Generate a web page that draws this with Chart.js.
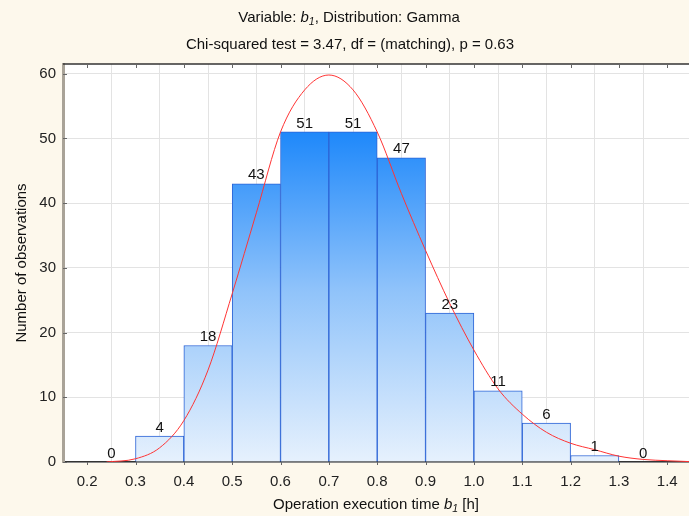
<!DOCTYPE html>
<html>
<head>
<meta charset="utf-8">
<script src="https://cdn.jsdelivr.net/npm/chart.js@4"></script>
<style>
  html, body { margin: 0; padding: 0; background: #fdf8ec; }
  #wrap { width: 689px; height: 516px; }
</style>
</head>
<body>
<div id="wrap"><canvas id="histChart" width="689" height="516"></canvas></div>
<script>
// histogram bins (centre of each 0.1 h class) and observed counts
const binCentres = [0.25, 0.35, 0.45, 0.55, 0.65, 0.75, 0.85, 0.95, 1.05, 1.15, 1.25, 1.35];
const counts = [0, 4, 18, 43, 51, 51, 47, 23, 11, 6, 1, 0];

// fitted gamma curve
const curveX = [0.24, 0.30, 0.35, 0.40, 0.45, 0.50, 0.55, 0.60, 0.65, 0.70, 0.75, 0.80, 0.85, 0.90, 0.95, 1.00, 1.05, 1.10, 1.15, 1.20, 1.25, 1.30, 1.35, 1.40, 1.45];
const curveY = [0, 0.5, 2.2, 6.4, 14.2, 26, 38.5, 51, 57.5, 59.8, 57.5, 51, 41.5, 32.7, 24.5, 17.3, 11.3, 7.4, 4.6, 2.9, 1.9, 0.9, 0.4, 0.2, 0.05];

const xTicks = [0.2, 0.3, 0.4, 0.5, 0.6, 0.7, 0.8, 0.9, 1.0, 1.1, 1.2, 1.3, 1.4];
const yTicks = [0, 10, 20, 30, 40, 50, 60];

const FONT = "'Liberation Sans', Arial, sans-serif";

// draws a line of text made of [text, italic, subscript] pieces, centred on cx
function richText(ctx, parts, cx, cy, size) {
    let total = 0;
    const widths = parts.map(p => {
        ctx.font = (p[1] ? "italic " : "") + (p[2] ? size * 0.7 : size) + "px " + FONT;
        const w = ctx.measureText(p[0]).width;
        total += w;
        return w;
    });
    let x = cx - total / 2;
    parts.forEach((p, i) => {
        ctx.font = (p[1] ? "italic " : "") + (p[2] ? size * 0.7 : size) + "px " + FONT;
        ctx.fillText(p[0], x, p[2] ? cy + 4 : cy);
        x += widths[i];
    });
}

const frame = {
    id: "frame",
    beforeDraw(chart) {
        const { ctx, chartArea: a } = chart;
        ctx.save();
        ctx.fillStyle = "#fdf8ec";
        ctx.fillRect(0, 0, chart.width, chart.height);
        ctx.fillStyle = "#ffffff";
        ctx.fillRect(a.left, a.top, a.right - a.left, a.bottom - a.top);
        ctx.restore();
    },
    afterDatasetsDraw(chart) {
        const { ctx } = chart;
        const meta = chart.getDatasetMeta(1);
        ctx.save();
        ctx.fillStyle = "#111";
        ctx.font = "15px " + FONT;
        ctx.textAlign = "center";
        ctx.textBaseline = "bottom";
        meta.data.forEach((bar, i) => {
            ctx.fillText(String(counts[i]), bar.x, bar.y - 1);
        });
        ctx.restore();
    },
    afterDraw(chart) {
        const { ctx, chartArea: a, scales } = chart;
        ctx.save();
        // top border with small ticks
        ctx.strokeStyle = "#333";
        ctx.lineWidth = 1.5;
        ctx.beginPath();
        ctx.moveTo(a.left, a.top);
        ctx.lineTo(a.right, a.top);
        ctx.stroke();
        ctx.lineWidth = 1;
        ctx.strokeStyle = "#666";
        xTicks.forEach(v => {
            const px = Math.round(scales.x.getPixelForValue(v)) + 0.5;
            ctx.beginPath();
            ctx.moveTo(px, a.top);
            ctx.lineTo(px, a.top + 4);
            ctx.moveTo(px, a.bottom);
            ctx.lineTo(px, a.bottom + 3);
            ctx.stroke();
        });
        yTicks.forEach(v => {
            const py = Math.round(scales.y.getPixelForValue(v)) + 0.5;
            ctx.beginPath();
            ctx.moveTo(a.left, py);
            ctx.lineTo(a.left + 4, py);
            ctx.stroke();
        });

        // titles
        ctx.fillStyle = "#111";
        ctx.textBaseline = "middle";
        ctx.textAlign = "left";
        richText(ctx, [["Variable: ", false, false], ["b", true, false], ["1", true, true], [", Distribution: Gamma", false, false]], 349, 18, 15);
        richText(ctx, [["Chi-squared test = 3.47, df = (matching), p = 0.63", false, false]], 350, 45, 15);
        richText(ctx, [["Operation execution time ", false, false], ["b", true, false], ["1", true, true], [" [h]", false, false]], (a.left + a.right) / 2, 505, 15);
        ctx.restore();
    }
};

function barFill(context) {
    const chart = context.chart;
    const a = chart.chartArea;
    if (!a) return "#5aa6fb";
    const g = chart.ctx.createLinearGradient(0, a.top, 0, a.bottom);
    g.addColorStop(0, "#1280f8");
    g.addColorStop(0.17, "#1e88fa");
    g.addColorStop(0.57, "#90c3fa");
    g.addColorStop(1, "#e6f1fd");
    return g;
}

new Chart(document.getElementById("histChart"), {
    type: "bar",
    data: {
        datasets: [
            {
                type: "line",
                data: curveX.map((x, i) => ({ x: x, y: curveY[i] })),
                borderColor: "#ff3434",
                borderWidth: 1,
                pointRadius: 0,
                cubicInterpolationMode: "monotone",
                order: 0
            },
            {
                type: "bar",
                data: binCentres.map((x, i) => ({ x: x, y: counts[i] })),
                backgroundColor: barFill,
                borderColor: "#2b63d6",
                borderWidth: 1,
                barPercentage: 1,
                categoryPercentage: 1,
                order: 1
            }
        ]
    },
    options: {
        responsive: false,
        animation: false,
        layout: { padding: { top: 64, left: 0, right: 0, bottom: 0 } },
        plugins: {
            legend: { display: false },
            tooltip: { enabled: false }
        },
        scales: {
            x: {
                type: "linear",
                offset: false,
                min: 0.15,
                max: 1.445,
                afterBuildTicks: s => { s.ticks = xTicks.map(v => ({ value: v })); },
                afterFit: s => { s.height = 54; },
                ticks: {
                    callback: v => Number(v).toFixed(1),
                    color: "#222",
                    font: { family: FONT, size: 15 },
                    padding: 11,
                    maxRotation: 0,
                    autoSkip: false
                },
                grid: { color: "#e3e3e3", drawTicks: false },
                border: { color: "#333", width: 1.5 }
            },
            y: {
                min: 0,
                max: 61.5,
                afterBuildTicks: s => { s.ticks = yTicks.map(v => ({ value: v })); },
                afterFit: s => { s.width = 63; },
                ticks: {
                    color: "#222",
                    font: { family: FONT, size: 15 },
                    padding: 7
                },
                grid: { color: "#e3e3e3", drawTicks: false },
                border: { color: "#a9a398", width: 3 },
                title: {
                    display: true,
                    text: "Number of observations",
                    color: "#111",
                    font: { family: FONT, size: 15 },
                    padding: { top: 13, bottom: 0 }
                }
            }
        }
    },
    plugins: [frame]
});
</script>
</body>
</html>
